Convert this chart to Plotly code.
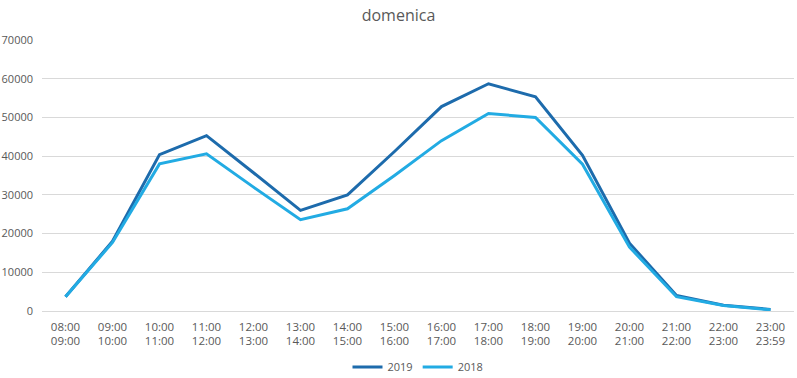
import plotly.graph_objects as go

categories = ["08:00<br>09:00", "09:00<br>10:00", "10:00<br>11:00", "11:00<br>12:00",
              "12:00<br>13:00", "13:00<br>14:00", "14:00<br>15:00", "15:00<br>16:00",
              "16:00<br>17:00", "17:00<br>18:00", "18:00<br>19:00", "19:00<br>20:00",
              "20:00<br>21:00", "21:00<br>22:00", "22:00<br>23:00", "23:00<br>23:59"]
values_2019 = [3700, 18000, 40400, 45300, 35700, 26000, 30000, 41200,
               52800, 58700, 55300, 40200, 17500, 4000, 1500, 400]
values_2018 = [3700, 17700, 38000, 40600, 32000, 23600, 26400, 35000,
               44000, 51000, 50000, 37900, 16500, 3700, 1400, 300]
y_ticks = [0, 10000, 20000, 30000, 40000, 50000, 60000, 70000]

fig = go.Figure()
fig.add_trace(go.Scatter(x=categories, y=values_2019, mode="lines", name="2019",
                         line=dict(color="#1D6BAC", width=3)))
fig.add_trace(go.Scatter(x=categories, y=values_2018, mode="lines", name="2018",
                         line=dict(color="#22ABE3", width=3)))

fig.update_layout(
    width=797, height=378,
    margin=dict(l=42, r=3, t=40, b=67, autoexpand=False),
    paper_bgcolor="white", plot_bgcolor="white",
    font=dict(family="Open Sans", size=11, color="#595959"),
    title=dict(text="domenica", x=0.5, xanchor="center", y=0.96, yanchor="middle",
               font=dict(size=16, color="#595959")),
    showlegend=True,
    legend=dict(orientation="h", x=0.5, xanchor="center", y=-0.207, yanchor="middle",
                font=dict(size=11, color="#595959"), itemwidth=30),
    xaxis=dict(type="category", range=[-0.5, 15.5], showgrid=False, zeroline=False,
               showline=False, ticks="", tickfont=dict(size=11.5), automargin=False,
               ticklabelstandoff=7),
    yaxis=dict(range=[0, 70000], tickvals=y_ticks, ticktext=[str(v) for v in y_ticks],
               showgrid=True, gridcolor="#D9D9D9", gridwidth=1, zeroline=True,
               zerolinecolor="#D9D9D9", zerolinewidth=1, showline=False, ticks="",
               automargin=False, ticklabelstandoff=8),
)

fig.write_html("out.html", config={"displayModeBar": False},
               post_script="document.body.style.margin='0px';")
